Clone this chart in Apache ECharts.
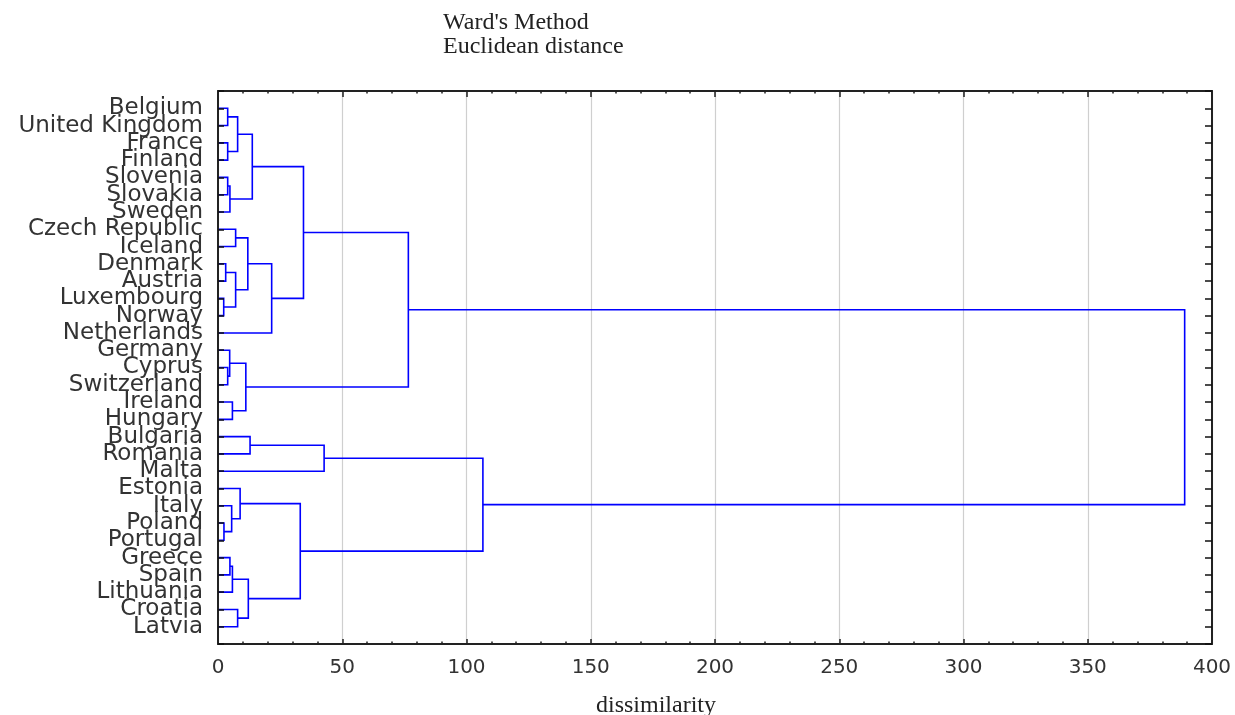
<!DOCTYPE html>
<html>
<head>
<meta charset="utf-8">
<script src="https://cdn.jsdelivr.net/npm/echarts@6/dist/echarts.min.js"></script>
<style>
html,body{margin:0;padding:0;background:#fff;}
#chart{width:1235px;height:715px;}
</style>
</head>
<body>
<div id="chart"></div>
<script>
// Leaves, top to bottom
const leaves = [
  'Belgium','United Kingdom','France','Finland','Slovenia','Slovakia','Sweden',
  'Czech Republic','Iceland','Denmark','Austria','Luxembourg','Norway','Netherlands',
  'Germany','Cyprus','Switzerland','Ireland','Hungary',
  'Bulgaria','Romania','Malta',
  'Estonia','Italy','Poland','Portugal','Greece','Spain','Lithuania','Croatia','Latvia'
];
// Merge steps: pairs of node ids (0..30 leaves, 31+ clusters in creation order)
const mergePairs = [
  [24,25],[11,12],[9,10],[0,1],[2,3],[15,16],[4,5],[26,27],
  [14,36],[37,6],[38,28],[17,18],[23,31],[7,8],[33,32],[29,30],
  [34,35],[22,43],[39,42],[44,45],[41,46],[19,20],[47,40],[50,13],
  [48,51],[53,54],[52,21],[56,49],[57,55],[58,59]
];
// Linkage distance of each merge step (dissimilarity)
const mergeHeights = [
  2.4, 2.3, 3.1, 3.9, 3.9, 3.9, 3.9, 4.8,
  4.7, 4.8, 5.8, 5.8, 5.5, 7.1, 7.1, 7.9,
  7.9, 8.9, 11.2, 12.0, 12.2, 12.9, 13.8, 21.6,
  33.1, 34.4, 42.7, 76.6, 106.6, 389
];
const titleLines = ["Ward's Method", 'Euclidean distance'];
const xAxisTitle = 'dissimilarity';

// build link segments from the tree
const pos = leaves.map((_, i) => i);
const hgt = leaves.map(() => 0);
const links = [];
mergePairs.forEach(([a, b], k) => {
  const h = mergeHeights[k];
  links.push([pos[a], hgt[a], pos[b], hgt[b], h]);
  pos.push((pos[a] + pos[b]) / 2);
  hgt.push(h);
});

const chart = echarts.init(document.getElementById('chart'), null, {renderer: 'canvas'});
const axisCol = '#222';
const sansFont = 'DejaVu Sans';
const serifFont = 'Liberation Serif';

const xBase = {
  type: 'value', min: 0, max: 400, interval: 50,
  axisLine: {show: true, onZero: false, lineStyle: {color: axisCol, width: 2}},
  axisTick: {show: true, inside: true, length: 5, lineStyle: {color: axisCol, width: 1.5}},
  minorTick: {show: true, splitNumber: 5, length: 2.5, lineStyle: {color: axisCol, width: 1.5}}
};
const yBase = {
  type: 'value', min: -1, max: 31, interval: 1, inverse: true,
  axisLine: {show: true, onZero: false, lineStyle: {color: axisCol, width: 2}},
  splitLine: {show: false}
};

chart.setOption({
  animation: false,
  backgroundColor: '#fff',
  grid: {left: 218, right: 23, top: 91, bottom: 71, containLabel: false},
  graphic: [
    {type: 'text', x: 443, y: 23, style: {text: titleLines[0], font: '24px "' + serifFont + '"', fill: '#222', textVerticalAlign: 'middle'}},
    {type: 'text', x: 443, y: 47, style: {text: titleLines[1], font: '24px "' + serifFont + '"', fill: '#222', textVerticalAlign: 'middle'}},
    {type: 'text', x: 656, y: 706, style: {text: xAxisTitle, font: '24px "' + serifFont + '"', fill: '#222', textAlign: 'center', textVerticalAlign: 'middle'}}
  ],
  xAxis: [
    Object.assign({}, xBase, {
      position: 'bottom',
      axisLabel: {show: true, margin: 14, fontFamily: sansFont, fontSize: 20, color: '#333'},
      splitLine: {show: true, lineStyle: {color: '#cfcfcf', width: 1.2}}
    }),
    Object.assign({}, xBase, {
      position: 'top',
      axisLabel: {show: false},
      splitLine: {show: false},
      axisTick: {show: true, inside: true, length: 6, lineStyle: {color: axisCol, width: 1.5}}
    })
  ],
  yAxis: [
    Object.assign({}, yBase, {
      position: 'left', z: 5,
      axisTick: {show: true, inside: true, length: 6, lineStyle: {color: '#111', width: 1.5}},
      axisLabel: {
        show: true, margin: 15, fontFamily: sansFont, fontSize: 23, color: '#333',
        padding: [5, 0, 0, 0],
        formatter: v => {
          const i = Math.round(v);
          return (Math.abs(v - i) < 1e-6 && i >= 0 && i < leaves.length) ? leaves[i] : '';
        }
      }
    }),
    Object.assign({}, yBase, {
      position: 'right', z: 5,
      axisTick: {show: true, inside: true, length: 7, lineStyle: {color: '#111', width: 1.5}},
      axisLabel: {show: false}
    })
  ],
  series: [{
    type: 'custom',
    coordinateSystem: 'cartesian2d',
    xAxisIndex: 0, yAxisIndex: 0,
    silent: true,
    z: 2,
    encode: {x: [1, 3, 4], y: [0, 2]},
    data: links,
    renderItem: (params, api) => {
      const yA = api.value(0), hA = api.value(1), yB = api.value(2), hB = api.value(3), hP = api.value(4);
      const pts = [api.coord([hA, yA]), api.coord([hP, yA]), api.coord([hP, yB]), api.coord([hB, yB])];
      return {
        type: 'polyline',
        shape: {points: pts},
        style: {stroke: '#0000ff', lineWidth: 1.6, fill: null}
      };
    }
  }]
});
</script>
</body>
</html>
